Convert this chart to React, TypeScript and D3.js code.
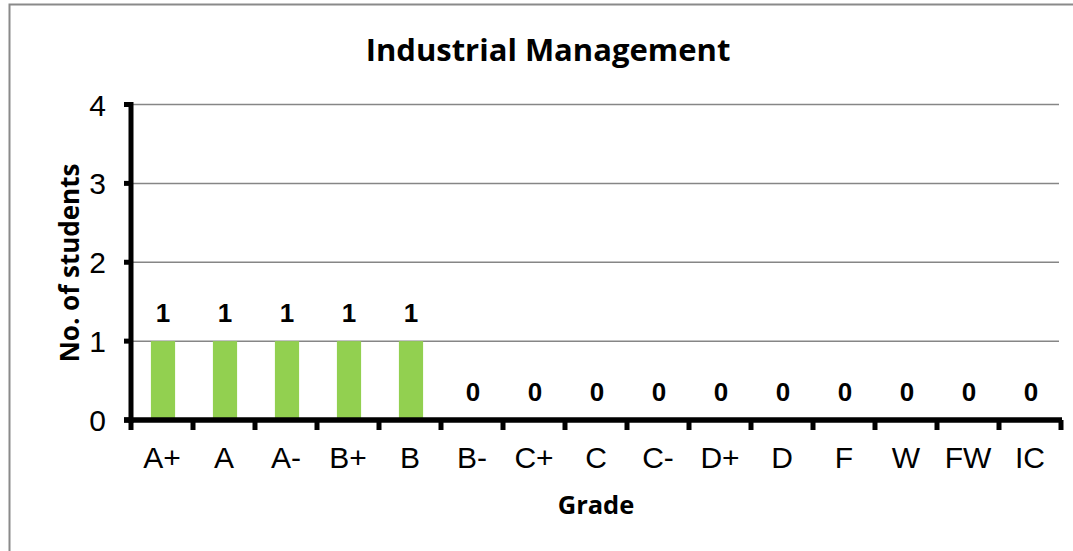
import React from "react";
import * as d3 from "d3";

const grades = ["A+", "A", "A-", "B+", "B", "B-", "C+", "C", "C-", "D+", "D", "F", "W", "FW", "IC"];
const students = [1, 1, 1, 1, 1, 0, 0, 0, 0, 0, 0, 0, 0, 0, 0];
const yTicks = [0, 1, 2, 3, 4];
const title = "Industrial Management";
const xTitle = "Grade";
const yTitle = "No. of students";

const W = 1073;
const H = 551;
const plot = { left: 131, right: 1061, top: 104.5, bottom: 420 };

export default function App() {
  const x = d3.scaleBand<string>().domain(grades).range([plot.left, plot.right]).paddingInner(0).paddingOuter(0);
  const y = d3.scaleLinear().domain([0, 4]).range([plot.bottom, plot.top]);
  const barW = x.bandwidth() * 0.39;
  const boundaries = d3.range(grades.length + 1).map((i) => plot.left + i * x.step());
  const sans = "'Liberation Sans', Arial, sans-serif";
  const bold = "'Open Sans', Calibri, sans-serif";

  return (
    <svg width={W} height={H} style={{ position: "absolute", left: 0, top: 0, background: "#fff" }}>
      <rect x={0} y={0} width={W} height={H} fill="#fff" />
      <rect x={9.5} y={4.5} width={1200} height={700} fill="none" stroke="#8a8a8a" strokeWidth={2} />
      <text x={548} y={61} textAnchor="middle" fontFamily={bold} fontWeight={700} fontSize={31} fill="#000">
        {title}
      </text>
      {yTicks.filter((t) => t > 0).map((t) => (
        <line key={"g" + t} x1={plot.left} x2={1059} y1={y(t)} y2={y(t)} stroke="#868686" strokeWidth={1.5} />
      ))}
      {grades.map((g, i) => (
        <rect key={"b" + g} x={x(g)! + x.bandwidth() / 2 - barW / 2 + 1} y={y(students[i])} width={barW} height={plot.bottom - y(students[i])} fill="#92D050" />
      ))}
      {/* y axis */}
      <line x1={plot.left} x2={plot.left} y1={plot.top - 2.5} y2={plot.bottom + 3} stroke="#000" strokeWidth={5} />
      {yTicks.map((t) => (
        <g key={"yt" + t}>
          <line x1={124} x2={plot.left} y1={y(t)} y2={y(t)} stroke="#000" strokeWidth={5} />
          <text x={106} y={y(t) + 11} textAnchor="end" fontFamily={sans} fontSize={30} fill="#000">
            {t}
          </text>
        </g>
      ))}
      {/* x axis */}
      <line x1={124} x2={plot.right + 1} y1={plot.bottom} y2={plot.bottom} stroke="#000" strokeWidth={5.5} />
      {boundaries.map((b, i) => (
        <line key={"xt" + i} x1={b} x2={b} y1={plot.bottom} y2={plot.bottom + 10} stroke="#000" strokeWidth={5} />
      ))}
      {grades.map((g) => (
        <text key={"xl" + g} x={x(g)! + x.bandwidth() / 2} y={468} textAnchor="middle" fontFamily={sans} fontSize={30} fill="#000">
          {g}
        </text>
      ))}
      {grades.map((g, i) => (
        <text key={"dl" + g} x={x(g)! + x.bandwidth() / 2 + 1} y={y(students[i]) - 19} textAnchor="middle" fontFamily={sans} fontWeight={700} fontSize={26} fill="#000">
          {students[i]}
        </text>
      ))}
      <text x={596} y={514} textAnchor="middle" fontFamily={bold} fontWeight={700} fontSize={25.5} fill="#000">
        {xTitle}
      </text>
      <text transform={`translate(79, 263) rotate(-90)`} textAnchor="middle" fontFamily={bold} fontWeight={700} fontSize={26} fill="#000">
        {yTitle}
      </text>
    </svg>
  );
}
